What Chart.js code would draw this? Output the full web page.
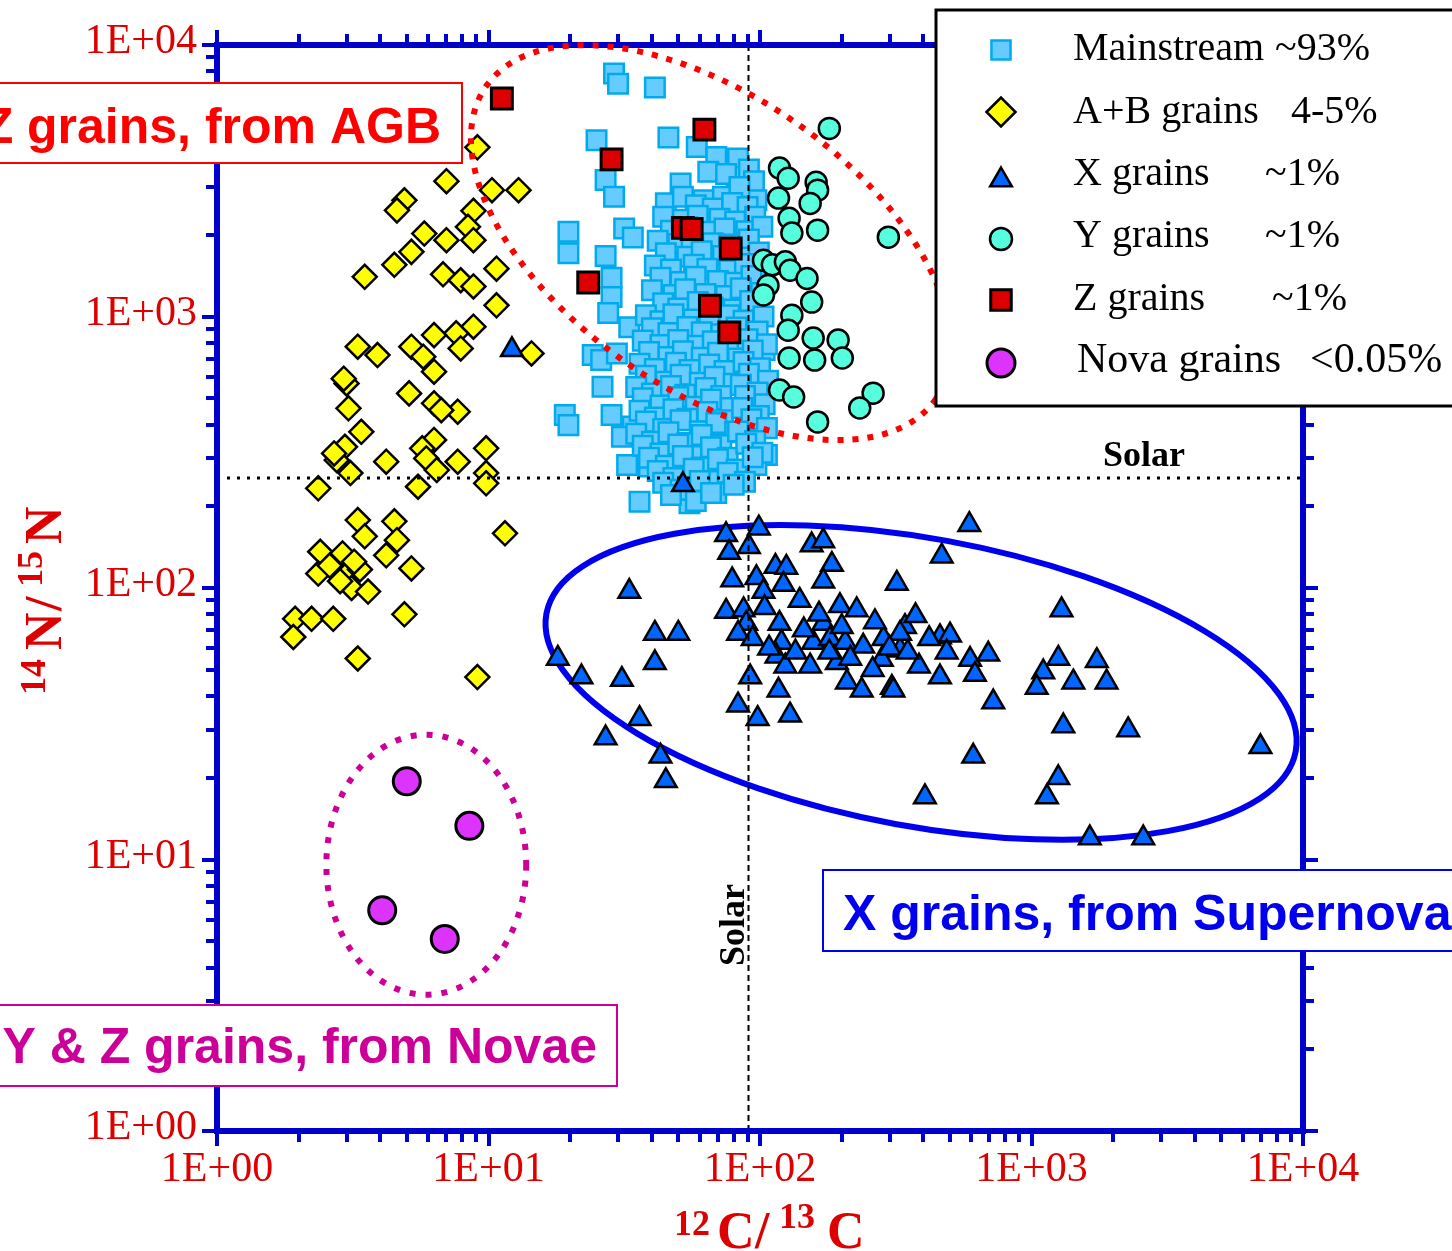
<!DOCTYPE html>
<html lang="en">
<head>
<meta charset="utf-8">
<title>Presolar SiC grains: 12C/13C vs 14N/15N</title>
<script src="https://cdn.jsdelivr.net/npm/chart.js@4.4.1/dist/chart.umd.min.js"></script>
<style>
  html, body { margin: 0; padding: 0; background: #ffffff; overflow: hidden; }
  canvas { display: block; }
</style>
</head>
<body>
<canvas id="grainChart" width="1452" height="1251"></canvas>
<script>
// Axis decades and their labels
const decadeValues = [1, 10, 100, 1000, 10000];
const xTickLabels = ["1E+00", "1E+01", "1E+02", "1E+03", "1E+04"];
const yTickLabels = ["1E+00", "1E+01", "1E+02", "1E+03", "1E+04"];

// Solar reference ratios
const solarCarbon = 90;
const solarNitrogen = 255;

const groupNames = ["Mainstream", "A+B grains", "X grains", "Y grains", "Z grains", "Nova grains"];
const groupShares = ["~93%", "4-5%", "~1%", "~1%", "~1%", "<0.05%"];
const originLabels = ["Z grains, from AGB", "X grains, from Supernova", "Y & Z grains, from Novae"];

// [12C/13C, 14N/15N]
const mainstream = [
  [29, 7850], [30, 7200], [41, 6970], [25, 4460], [46, 4560], [27, 3180], [29, 2760],
  [58.5, 4210], [69, 3870], [83, 3820], [64.5, 3410], [82, 3270], [51, 3090], [75, 3350], [91, 3480], [95, 3150],
  [19.7, 2050], [19.7, 1710], [31.6, 2110], [34, 1955], [27, 1670], [28.4, 1390], [28.4, 1180],
  [27.6, 1030], [33, 912], [24.2, 721], [26, 691], [29.7, 731], [26.3, 551],
  [19.1, 434], [19.7, 398], [28.4, 434], [34, 393], [31, 361], [32.4, 284],
  [36, 208], [55, 205], [106, 309], [104, 752], [97, 2680], [93, 559], [97, 465], [97, 284],
  [73, 261], [62, 265], [54, 230], [39, 280], [45, 2610], [52, 2760], [62, 2680], [73, 2760], [84, 3000],
  [58, 2570], [67, 2500], [79, 2620], [90, 2530],
  [44, 2330], [52, 2270], [59, 2350], [71, 2290], [81, 2240], [96, 2330],
  [47, 2070], [54, 2130], [65, 2050], [74, 2110], [89, 2060], [102, 2140],
  [42, 1900], [50, 1850], [56, 1920], [67, 1860], [77, 1840], [91, 1920],
  [45, 1710], [54, 1660], [61, 1740], [73, 1670], [85, 1650], [99, 1720],
  [41, 1540], [47, 1490], [57, 1550], [64, 1500], [77, 1480], [88, 1560], [104, 1510],
  [43, 1390], [51, 1340], [58, 1400], [70, 1350], [81, 1330], [93, 1410],
  [40, 1250], [48, 1200], [53, 1260], [63, 1210], [75, 1190], [85, 1270], [101, 1220],
  [44, 1120], [50, 1070], [59, 1130], [67, 1080], [80, 1060], [92, 1140],
  [38, 1010], [43, 960], [48, 1020], [57, 975], [65, 950], [77, 1010], [87, 965], [103, 1000],
  [40, 905], [46, 870], [54, 915], [61, 875], [72, 860], [82, 910], [98, 880],
  [37, 815], [43, 785], [50, 820], [59, 780], [67, 810], [80, 775], [90, 825], [106, 790],
  [39, 740], [46, 710], [52, 745], [61, 705], [70, 735], [83, 700], [94, 750],
  [36, 670], [41, 640], [49, 675], [55, 635], [65, 665], [74, 630], [87, 680], [100, 645],
  [38, 605], [45, 575], [51, 610], [60, 570], [68, 600], [80, 565], [91, 615], [107, 580],
  [35, 550], [40, 520], [47, 555], [53, 515], [63, 545], [72, 510], [85, 560], [98, 525],
  [37, 500], [43, 470], [50, 505], [58, 465], [66, 495], [78, 460], [88, 510], [104, 475],
  [36, 450], [41, 425], [48, 455], [54, 420], [64, 445], [73, 415], [86, 460], [99, 430],
  [38, 410], [44, 385], [51, 415], [60, 378], [69, 405], [81, 375], [93, 418], [106, 388],
  [35, 370], [40, 346], [46, 375], [54, 342], [61, 366], [72, 336], [83, 377], [96, 348],
  [37, 334], [43, 313], [50, 338], [56, 306], [66, 330], [76, 302], [89, 340], [102, 315],
  [39, 302], [45, 282], [52, 306], [61, 278], [70, 298], [82, 273], [94, 303],
  [42, 270], [48, 254], [57, 275], [65, 248], [76, 266], [88, 246],
  [44, 244], [51, 230], [60, 248], [69, 224], [80, 240],
  [47, 220], [58, 209], [66, 224]
];

const abGrains = [
  [9.1, 4200], [7.0, 3150], [10.3, 2920], [12.9, 2920], [4.9, 2680], [4.6, 2460], [8.8, 2450],
  [8.4, 2140], [5.8, 2020], [7.0, 1910], [8.8, 1910], [5.2, 1730], [4.5, 1550], [3.5, 1400],
  [6.8, 1430], [7.9, 1360], [8.8, 1290], [10.7, 1500], [10.7, 1100], [8.8, 917], [7.6, 867],
  [6.3, 854], [5.2, 774], [3.3, 774], [3.9, 721], [5.75, 711], [7.9, 763], [6.3, 626], [14.4, 731],
  [3.0, 567], [2.93, 590], [3.05, 459], [5.1, 521], [6.3, 479], [7.7, 446], [6.7, 452], [3.4, 376],
  [2.96, 331], [6.3, 351], [5.7, 327], [2.76, 296], [4.2, 292], [5.9, 300], [7.7, 292], [9.8, 327],
  [3.1, 265], [6.45, 272], [9.8, 265], [2.36, 233], [5.5, 236], [9.8, 243], [2.7, 313],
  [3.3, 178], [4.5, 176], [3.5, 155], [4.6, 150], [4.2, 132], [2.4, 136], [2.9, 134],
  [5.2, 118], [2.36, 113], [3.0, 112], [3.36, 117], [3.13, 100], [3.6, 97], [2.84, 106],
  [3.2, 125], [2.6, 121], [1.94, 77], [2.23, 77], [2.68, 77], [1.91, 66], [4.9, 80],
  [3.3, 55], [11.5, 159], [9.1, 47]
];

const xGrains = [
  [33, 97], [41, 68], [50, 68], [18, 55], [22, 47], [31, 46], [41, 53], [36, 33], [27, 28], [43, 24], [45, 19.5],
  [75, 157], [99, 166], [77, 135], [91, 142], [79, 107], [97, 109], [114, 120], [125, 119], [122, 103], [103, 97],
  [75, 82], [87, 83], [104, 84.5], [89, 74], [83, 68], [94, 65], [118, 74], [120, 63], [115, 56], [124, 51.5],
  [92, 47], [117, 42], [83, 37], [98, 33], [129, 34],
  [155, 144], [171, 149], [184, 122], [171, 106], [153, 51.5], [197, 86], [227, 83], [171, 74], [157, 63],
  [181, 65], [206, 63], [192, 53], [209, 45], [237, 42], [240, 61], [285, 65], [319, 104], [328, 59],
  [281, 54.5], [306, 43], [342, 72],
  [590, 171], [467, 131], [1290, 83], [374, 79], [328, 68], [460, 66], [501, 67], [487, 58], [594, 54.5],
  [693, 57], [385, 51.5], [460, 47], [619, 48], [310, 42], [723, 38],
  [1255, 55], [1105, 49], [1045, 43], [1426, 45], [1740, 54], [1890, 45], [1310, 31], [2270, 30],
  [6970, 26], [610, 24], [1255, 20], [1140, 17], [405, 17], [1640, 12], [2580, 12],
  [12.2, 754], [52, 240],
  [135, 58], [145, 70], [165, 80], [200, 72], [215, 55], [260, 50], [300, 60], [265, 75],
  [350, 58], [420, 65], [180, 58], [140, 90], [108, 60]
];

const yGrains = [
  [180, 4930], [118, 3520], [127, 3230], [161, 3120], [163, 2920], [117, 2730], [153, 2610],
  [128, 2300], [131, 2030], [163, 2080], [297, 1960],
  [103, 1610], [111, 1550], [124, 1590], [129, 1480], [149, 1380], [107, 1300], [103, 1200],
  [155, 1130], [131, 1010], [127, 890], [157, 833], [194, 819], [128, 703], [159, 691],
  [201, 703], [118, 536], [133, 505], [261, 522], [233, 460], [163, 409]
];

const zGrains = [
  [11.2, 6350], [62.4, 4880], [28.4, 3790], [52, 2120], [56, 2100], [78, 1780], [23.3, 1335],
  [65.4, 1095], [77.1, 874]
];

const novaGrains = [
  [5.0, 19.4], [8.5, 13.3], [4.06, 6.5], [6.9, 5.1]
];

const AXIS_BLUE = "#0000cc";
const LABEL_RED = "#dd0000";
const SERIF = '"Liberation Serif", "DejaVu Serif", serif';
const SANS = '"Liberation Sans", Arial, sans-serif';

// every log tick: 1..9 per decade
const tickValues = [];
for (let k = 0; k < 4; k++) {
  for (let m = 1; m < 10; m++) tickValues.push(m * Math.pow(10, k));
}
tickValues.push(10000);

const toPoints = (pairs) => pairs.map(([x, y]) => ({ x, y }));

// group outlines: centre in data units, semi-axes in decades
const outlines = {
  agb: { cx: 66, cy: 1871, rx: 1.009, ry: 0.541, tilt: 34.8, color: "#ff0000", width: 6, dash: [6, 9] },
  supernova: { cx: 392, cy: 44.9, rx: 1.403, ry: 0.53, tilt: 10.4, color: "#0000ee", width: 6, dash: [] },
  novae: { cx: 5.9, cy: 9.57, rx: 0.368, ry: 0.479, tilt: 0, color: "#cc0099", width: 6, dash: [6, 10] },
};

function strokeOutline(chart, o) {
  const { ctx, scales: { x, y } } = chart;
  const decade = x.getPixelForValue(10) - x.getPixelForValue(1);
  ctx.save();
  ctx.beginPath();
  ctx.ellipse(
    x.getPixelForValue(o.cx), y.getPixelForValue(o.cy),
    o.rx * decade, o.ry * decade, (o.tilt * Math.PI) / 180, 0, Math.PI * 2
  );
  ctx.setLineDash(o.dash);
  ctx.lineWidth = o.width;
  ctx.strokeStyle = o.color;
  ctx.stroke();
  ctx.restore();
}

function labelBox(ctx, text, box, color, align, textX, baseline) {
  ctx.save();
  ctx.fillStyle = "#ffffff";
  ctx.fillRect(box[0], box[1], box[2] - box[0], box[3] - box[1]);
  ctx.strokeStyle = color;
  ctx.lineWidth = 2;
  ctx.strokeRect(box[0], box[1], box[2] - box[0], box[3] - box[1]);
  ctx.fillStyle = color;
  ctx.font = `bold 50px ${SANS}`;
  ctx.textAlign = align;
  ctx.textBaseline = "alphabetic";
  ctx.fillText(text, textX, baseline);
  ctx.restore();
}

const blueOutlineBehind = {
  id: "blueOutlineBehind",
  beforeDatasetsDraw(chart) {
    strokeOutline(chart, outlines.supernova);
  },
};

// dashed solar ratio lines with their labels
const solarLines = {
  id: "solarLines",
  afterDatasetsDraw(chart) {
    const { ctx, chartArea: a, scales: { x, y } } = chart;
    const sx = Math.round(x.getPixelForValue(solarCarbon)) + 0.5;
    const sy = Math.round(y.getPixelForValue(solarNitrogen));
    ctx.save();
    ctx.strokeStyle = "#000000";
    ctx.lineWidth = 2;
    ctx.setLineDash([6, 4]);
    ctx.beginPath();
    ctx.moveTo(sx, a.top);
    ctx.lineTo(sx, a.bottom);
    ctx.stroke();
    ctx.lineWidth = 3;
    ctx.setLineDash([3, 7]);
    ctx.beginPath();
    ctx.moveTo(a.left + 10, sy);
    ctx.lineTo(a.right, sy);
    ctx.stroke();
    ctx.setLineDash([]);
    ctx.fillStyle = "#000000";
    ctx.font = `bold 36px ${SERIF}`;
    ctx.textAlign = "left";
    ctx.fillText("Solar", a.right - 200, sy - 12);
    ctx.translate(sx - 5, 925);
    ctx.rotate(-Math.PI / 2);
    ctx.textAlign = "center";
    ctx.fillText("Solar", 0, 0);
    ctx.restore();
  },
};

const logFrame = {
  id: "logFrame",
  afterDatasetsDraw(chart) {
    const { ctx, chartArea: a, scales: { x, y } } = chart;
    const half = 3;
    ctx.save();
    ctx.fillStyle = AXIS_BLUE;
    const w = a.right - a.left + 2 * half;
    const h = a.bottom - a.top + 2 * half;
    ctx.fillRect(a.left - half, a.top - half, w, 2 * half);
    ctx.fillRect(a.left - half, a.bottom - half, w, 2 * half);
    ctx.fillRect(a.left - half, a.top - half, 2 * half, h);
    ctx.fillRect(a.right - half, a.top - half, 2 * half, h);

    tickValues.forEach((v) => {
      const len = decadeValues.includes(v) ? 12 : 8;
      const px = Math.round(x.getPixelForValue(v));
      const py = Math.round(y.getPixelForValue(v));
      ctx.fillRect(px - 2, a.bottom + half, 4, len);
      ctx.fillRect(px - 2, a.top - half - len, 4, len);
      ctx.fillRect(a.left - half - len, py - 2, len, 4);
      ctx.fillRect(a.right + half, py - 2, len, 4);
    });

    ctx.fillStyle = LABEL_RED;
    ctx.font = `42px ${SERIF}`;
    ctx.textBaseline = "middle";
    ctx.textAlign = "center";
    decadeValues.forEach((v, i) => {
      ctx.fillText(xTickLabels[i], x.getPixelForValue(v), a.bottom + 39);
    });
    ctx.textAlign = "right";
    decadeValues.forEach((v, i) => {
      ctx.fillText(yTickLabels[i], a.left - 20, y.getPixelForValue(v) - 3);
    });

    // axis titles with superscript mass numbers
    const pieces = (list) => list.forEach(([t, dx, dy, size]) => {
      ctx.font = `bold ${size}px ${SERIF}`;
      ctx.fillText(t, dx, dy);
    });
    ctx.textAlign = "left";
    ctx.textBaseline = "alphabetic";
    ctx.save();
    ctx.translate((a.left + a.right) / 2 + 9, 1248);
    pieces([["12", -95, -13, 36], ["C", -52, 0, 52], ["/", -14, 0, 52], ["13", 10, -20, 36], ["C", 58, 0, 52]]);
    ctx.restore();
    ctx.save();
    ctx.translate(61, 601);
    ctx.rotate(-Math.PI / 2);
    pieces([["14", -94, -16, 36], ["N", -49, 0, 52], ["/", -10, 0, 52], ["15", 14, -19, 36], ["N", 57, 0, 52]]);
    ctx.restore();
    ctx.restore();
  },
};

// outlines and origin labels go above the axis frame
const groupMarks = {
  id: "groupMarks",
  afterDatasetsDraw(chart) {
    const { ctx } = chart;
    strokeOutline(chart, outlines.agb);
    strokeOutline(chart, outlines.novae);
    labelBox(ctx, originLabels[0], [-10, 83, 462, 163], "#ff0000", "right", 441, 143);
    labelBox(ctx, originLabels[1], [823, 870, 1470, 951], "#0000ee", "left", 843, 930);
    labelBox(ctx, originLabels[2], [-10, 1005, 617, 1086], "#cc0099", "right", 597, 1063);
  },
};

// legend rows: marker centre y, text baseline, share column
const legendLayout = {
  box: [936, 10, 1470, 406],
  markerX: 1001,
  textX: [1073, 1073, 1073, 1073, 1073, 1077],
  shareX: [1275, 1291, 1265, 1265, 1272, 1310],
  markerY: [50, 112, 180, 239, 300, 363],
  baseline: [60, 123, 185, 247, 310, 372],
  radius: [13.5, 14.5, 12.5, 11, 14.5, 14],
};

const grainLegend = {
  id: "grainLegend",
  afterDraw(chart) {
    const { ctx } = chart;
    const L = legendLayout;
    ctx.save();
    ctx.fillStyle = "#ffffff";
    ctx.fillRect(L.box[0], L.box[1], L.box[2] - L.box[0], L.box[3] - L.box[1]);
    ctx.strokeStyle = "#000000";
    ctx.lineWidth = 3;
    ctx.strokeRect(L.box[0], L.box[1], L.box[2] - L.box[0], L.box[3] - L.box[1]);

    chart.data.datasets.forEach((ds, i) => {
      ctx.fillStyle = ds.backgroundColor;
      ctx.strokeStyle = ds.borderColor;
      ctx.lineWidth = ds.borderWidth;
      Chart.helpers.drawPoint(ctx, {
        pointStyle: ds.pointStyle, radius: L.radius[i], borderWidth: ds.borderWidth, rotation: 0,
      }, L.markerX, L.markerY[i]);

      ctx.fillStyle = "#000000";
      ctx.font = `${i === 5 ? 42 : 40}px ${SERIF}`;
      ctx.textAlign = "left";
      ctx.textBaseline = "alphabetic";
      ctx.fillText(groupNames[i], L.textX[i], L.baseline[i]);
      ctx.fillText(groupShares[i], L.shareX[i], L.baseline[i]);
    });
    ctx.restore();
  },
};

const config = {
  type: "scatter",
  data: {
    datasets: [
      {
        label: groupNames[0], data: toPoints(mainstream), order: 6,
        pointStyle: "rect", pointRadius: 13.8, pointHoverRadius: 13.8,
        backgroundColor: "#66ccff", borderColor: "#00aaee", borderWidth: 2.5,
      },
      {
        label: groupNames[1], data: toPoints(abGrains), order: 5,
        pointStyle: "rectRot", pointRadius: 12, pointHoverRadius: 12,
        backgroundColor: "#ffff00", borderColor: "#000000", borderWidth: 2.5,
      },
      {
        label: groupNames[2], data: toPoints(xGrains), order: 4,
        pointStyle: "triangle", pointRadius: 12.5, pointHoverRadius: 12.5,
        backgroundColor: "#0066ff", borderColor: "#000000", borderWidth: 2.5,
      },
      {
        label: groupNames[3], data: toPoints(yGrains), order: 3,
        pointStyle: "circle", pointRadius: 10.5, pointHoverRadius: 10.5,
        backgroundColor: "#55ffdd", borderColor: "#000000", borderWidth: 2.5,
      },
      {
        label: groupNames[4], data: toPoints(zGrains), order: 2,
        pointStyle: "rect", pointRadius: 14.8, pointHoverRadius: 14.8,
        backgroundColor: "#dd0000", borderColor: "#000000", borderWidth: 3,
      },
      {
        label: groupNames[5], data: toPoints(novaGrains), order: 1,
        pointStyle: "circle", pointRadius: 13.5, pointHoverRadius: 13.5,
        backgroundColor: "#dd33ff", borderColor: "#000000", borderWidth: 3,
      },
    ],
  },
  options: {
    responsive: false,
    animation: false,
    devicePixelRatio: 1,
    events: [],
    layout: { padding: { left: 217, right: 149, top: 45, bottom: 120 } },
    scales: {
      x: { type: "logarithmic", min: 1, max: 10000, display: false },
      y: { type: "logarithmic", min: 1, max: 10000, display: false },
    },
    plugins: {
      legend: { display: false },
      tooltip: { enabled: false },
    },
  },
  plugins: [blueOutlineBehind, solarLines, logFrame, groupMarks, grainLegend],
};

const grainChart = new Chart(document.getElementById("grainChart").getContext("2d"), config);
</script>
</body>
</html>
